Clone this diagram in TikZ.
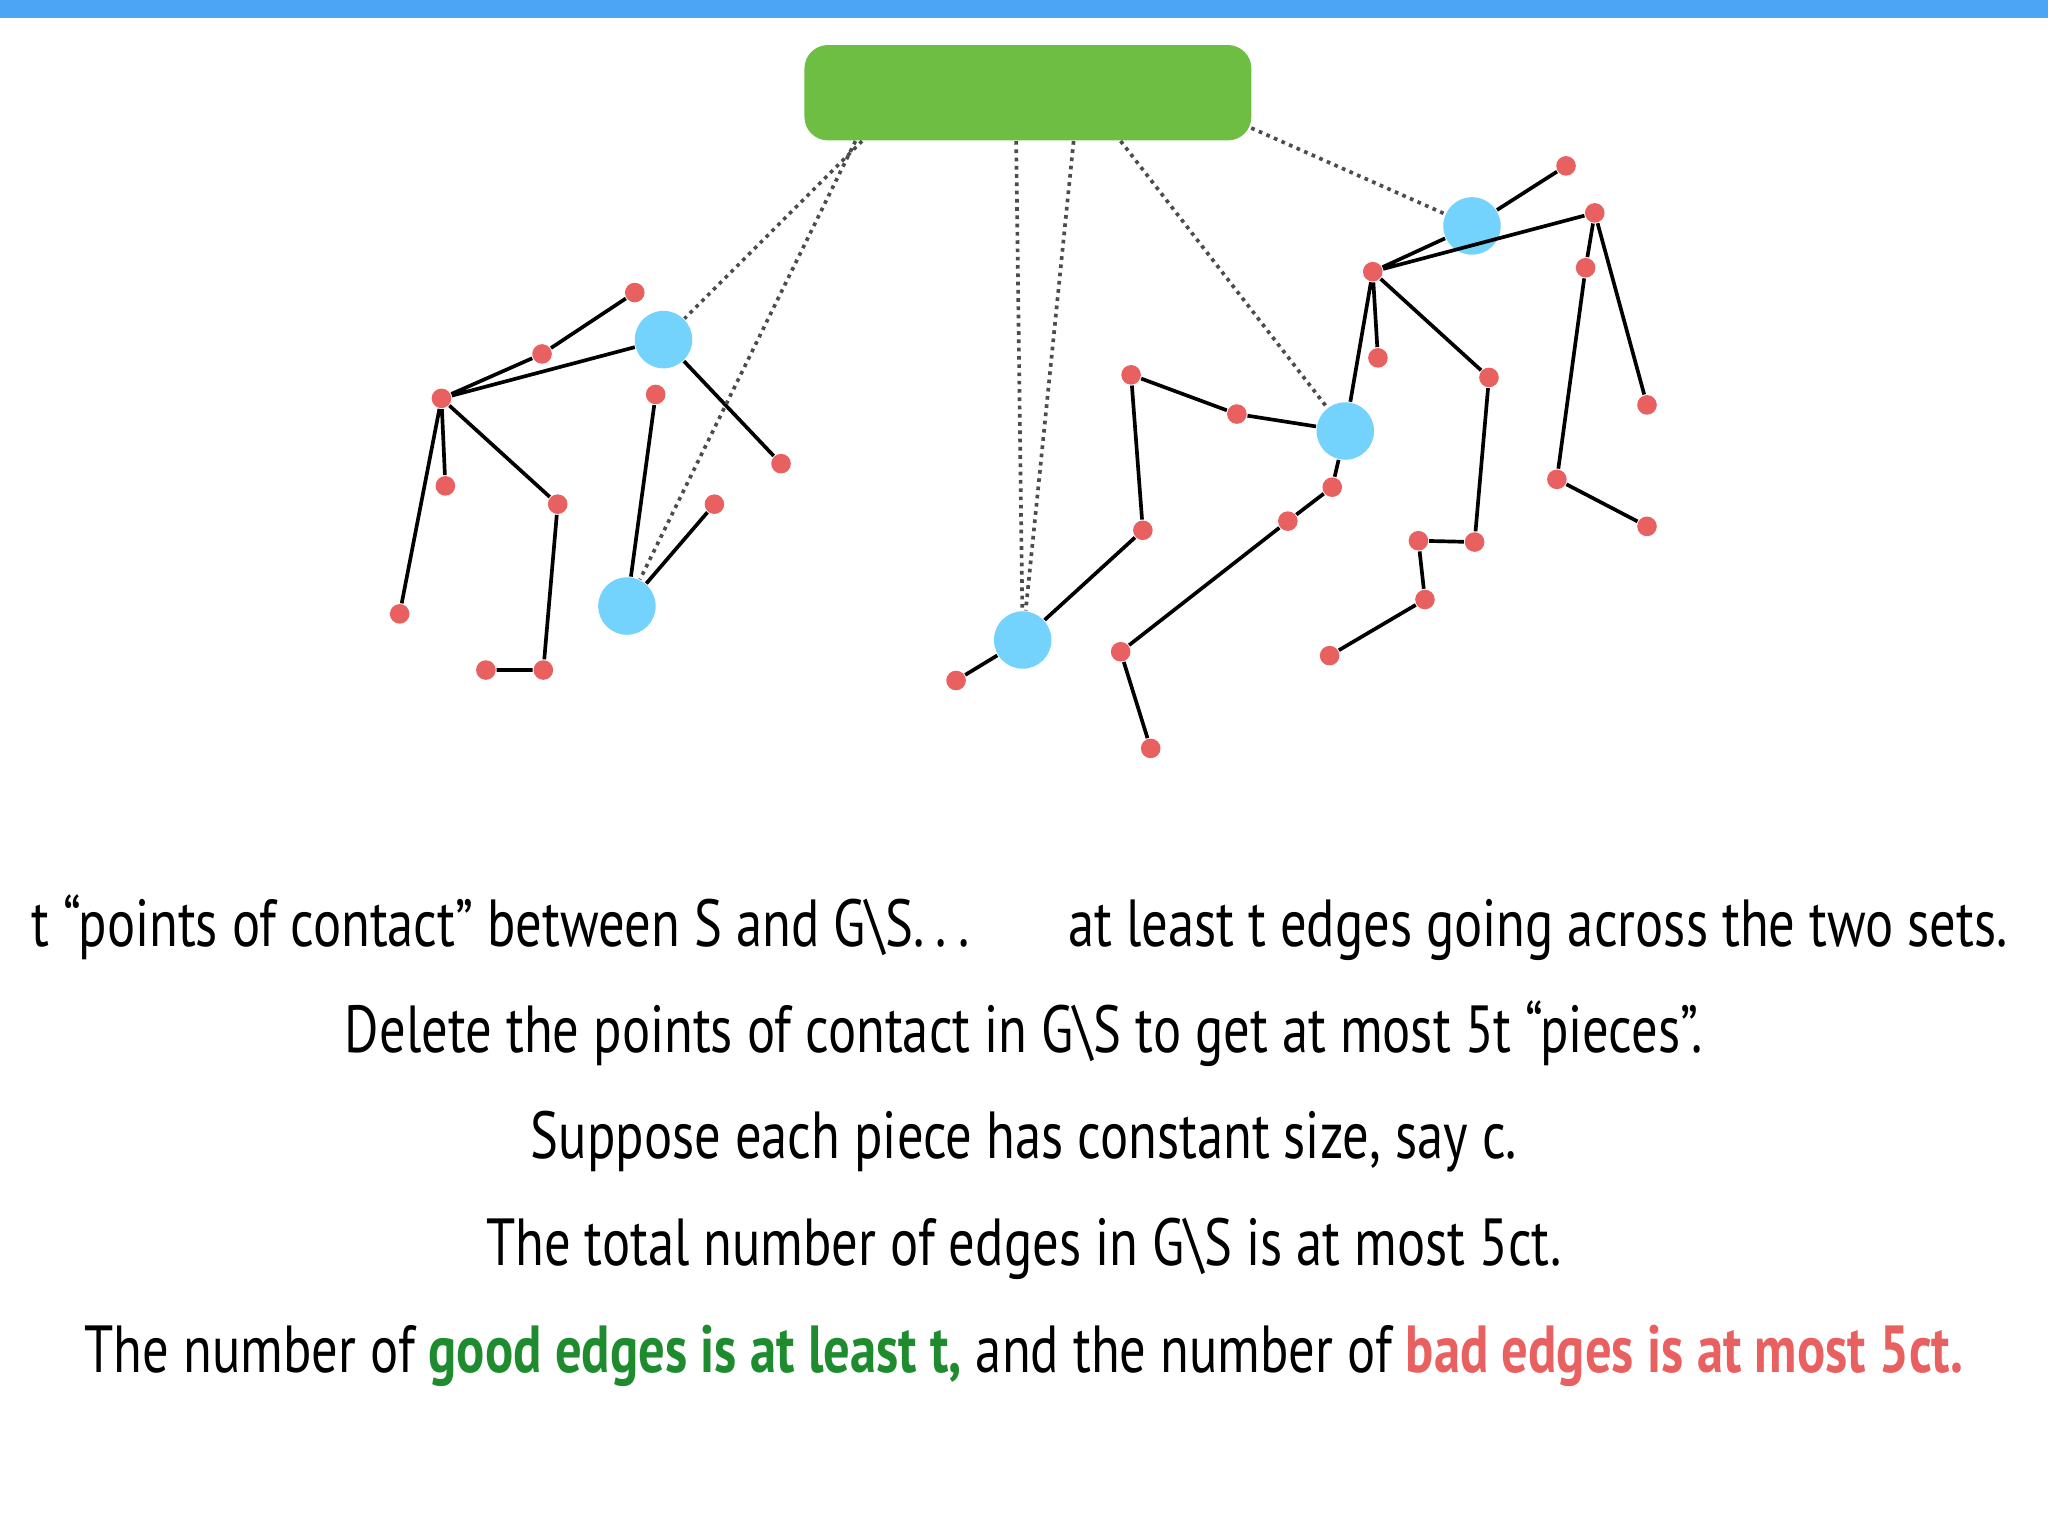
\documentclass[tikz,border=0pt]{standalone}
\usepackage{fontspec}
\setmainfont{PT Sans}[FakeStretch=0.79]
\begin{document}
\begin{tikzpicture}[x=0.01cm,y=-0.01cm,
 rd/.style={circle,draw=none,minimum size=0.15cm,inner sep=0},
 bl/.style={circle,draw=none,minimum size=0.44cm,inner sep=0},
 dot/.style={densely dotted,thick,gray!60!black},
 ed/.style={line width=0.8pt},
 txt/.style={font=\fontsize{14.5}{16}\selectfont,anchor=base,inner sep=0}]
\definecolor{rr}{HTML}{E8605F}\definecolor{gg}{HTML}{1E8C2E}
\definecolor{bar}{HTML}{4DA6F5}\definecolor{gbox}{HTML}{6FBE44}\definecolor{bb}{HTML}{74D3FC}
\tikzset{rd/.append style={fill=rr},bl/.append style={fill=bb}}
\useasboundingbox (0,0) rectangle (1568,1176);
\fill[bar] (0,0) rectangle (1568,14);
\node[fill=gbox,rounded corners=0.18cm,minimum width=3.42cm,minimum height=0.73cm,inner sep=0] (G) at (787,71) {};
\coordinate (g1) at (660,108);\coordinate (g2) at (655,108);\coordinate (g3) at (778,108);
\coordinate (g4) at (822,108);\coordinate (g5) at (858,108);\coordinate (g6) at (958,98);
\node[bl] (A) at (508,260){};\node[bl] (B) at (480,464){};
\foreach \n/\x/\y in {a1/486/224,a2/415/271,a3/338/305,a4/502/302,a5/598/355,a6/341/372,a7/427/386,a8/306/470,a9/372/513,a10/416/513,a11/547/386,
 m1/732/521,m2/875/406,m3/866/287,m4/947/317,m5/1020/373,m6/986/399,m7/858/499,m8/881/573,m9/1051/208,m10/1055/274,m11/1140/289,m12/1129/415,m13/1086/414,m14/1091/459,m15/1018/502,
 e1/1199/127,e2/1221/163,e3/1214/205,e4/1192/367,e5/1261/403,e6/1261/310}
 \node[rd] (\n) at (\x,\y){};
\node[bl] (C) at (783,490){};\node[bl] (D) at (1030,330){};\node[bl] (E) at (1127,173){};
\draw[ed] (a1)--(a2)--(a3) (A)--(a3) (B)--(a4) (A)--(a5) (a3)--(a6) (a3)--(a7) (a3)--(a8) (a7)--(a10)--(a9) (B)--(a11);
\draw[ed] (m1)--(C)--(m2)--(m3)--(m4)--(D)--(m5)--(m6)--(m7)--(m8) (D)--(m9)--(m10) (m9)--(m11)--(m12)--(m13)--(m14)--(m15);
\draw[ed] (E)--(e1) (E)--(m9)--(e2)--(e3)--(e4)--(e5) (e2)--(e6);
\draw[dot] (g1)--(A) (g2)--(B) (g3)--(C) (g4)--(C) (g5)--(D) (g6)--(E);
\node[txt,anchor=base east] (t1) at (743,725) {t “points of contact” between S and G\textbackslash S.\,.\,.};
\node[txt,anchor=base west] (t1b) at (817,725) {at least t edges going across the two sets.};
\node[txt] (t2) at (784,806) {Delete the points of contact in G\textbackslash S to get at most 5t “pieces”.};
\node[txt] (t3) at (784,887) {Suppose each piece has constant size, say c.};
\node[txt] (t4) at (784,969) {The total number of edges in G\textbackslash S is at most 5ct.};
\node[txt] (t5) at (784,1051) {The number of \textcolor{gg}{\bfseries good edges is at least t,} and the number of \textcolor{rr}{\bfseries bad edges is at most 5ct.}};
\end{tikzpicture}
\end{document}
